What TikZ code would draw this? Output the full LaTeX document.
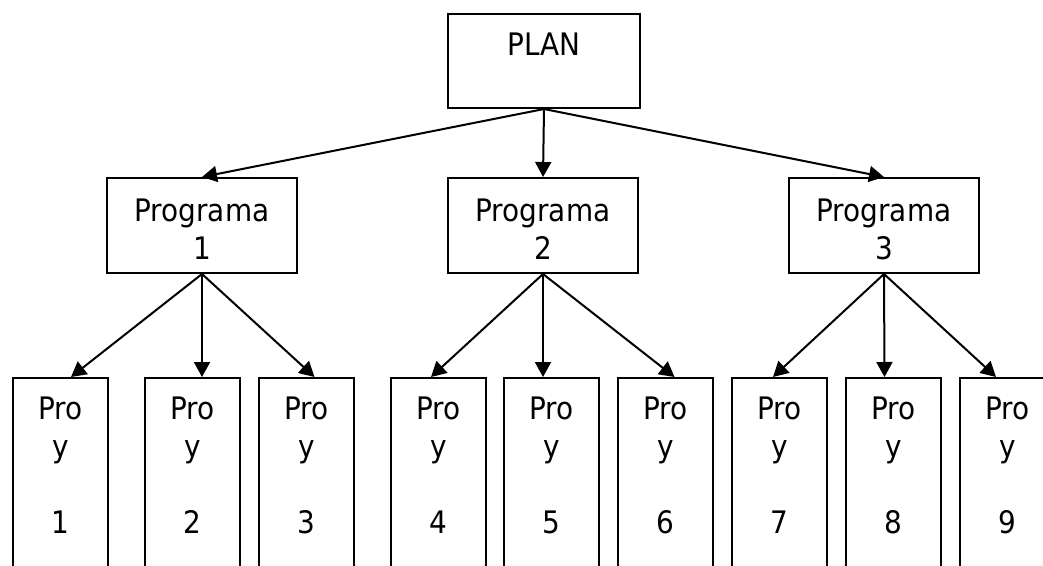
\documentclass[tikz,border=0pt]{standalone}
\usepackage{fontspec}
\setmainfont{DejaVu Sans Condensed}
\usetikzlibrary{arrows.meta}
\tikzset{
  box/.style={draw, line width=2pt, inner sep=0pt, anchor=north west,
    font=\fontsize{31pt}{38pt}\selectfont},
  arr/.style={line width=2pt, -{Triangle[length=15pt,width=16pt]}},
}
\newcommand{\boxtext}[4]{\parbox[c][#2pt][t]{#1pt}{\centering\vspace*{#3pt}#4}}
\begin{document}
\begin{tikzpicture}[x=1pt,y=-1pt]
\useasboundingbox (0,0) rectangle (1043,565);
\clip (0,0) rectangle (1043,565);
% top
\node[box] (plan) at (447,13) {\boxtext{192}{94}{19}{PLAN}};
% programs
\node[box] (g1) at (106,177) {\boxtext{190}{95}{21}{Programa\\1}};
\node[box] (g2) at (447,177) {\boxtext{190}{95}{21}{Programa\\2}};
\node[box] (g3) at (788,177) {\boxtext{190}{95}{21}{Programa\\3}};
% projects
\node[box] (p1) at (12,377)  {\boxtext{95}{250}{19}{Pro\\y\\[38pt]1}};
\node[box] (p2) at (144,377) {\boxtext{95}{250}{19}{Pro\\y\\[38pt]2}};
\node[box] (p3) at (258,377) {\boxtext{95}{250}{19}{Pro\\y\\[38pt]3}};
\node[box] (p4) at (390,377) {\boxtext{95}{250}{19}{Pro\\y\\[38pt]4}};
\node[box] (p5) at (503,377) {\boxtext{95}{250}{19}{Pro\\y\\[38pt]5}};
\node[box] (p6) at (617,377) {\boxtext{95}{250}{19}{Pro\\y\\[38pt]6}};
\node[box] (p7) at (731,377) {\boxtext{95}{250}{19}{Pro\\y\\[38pt]7}};
\node[box] (p8) at (845,377) {\boxtext{95}{250}{19}{Pro\\y\\[38pt]8}};
\node[box] (p9) at (959,377) {\boxtext{95}{250}{19}{Pro\\y\\[38pt]9}};
% connectors
\draw[arr] (plan.south) -- (g1.north);
\draw[arr] (plan.south) -- (g2.north);
\draw[arr] (plan.south) -- (g3.north);
\draw[arr] (g1.south) -- ([xshift=10.5pt]p1.north);
\draw[arr] (g1.south) -- ([xshift=9.5pt]p2.north);
\draw[arr] (g1.south) -- ([xshift=8pt]p3.north);
\draw[arr] (g2.south) -- ([xshift=-7.5pt]p4.north);
\draw[arr] (g2.south) -- ([xshift=-8.5pt]p5.north);
\draw[arr] (g2.south) -- ([xshift=9pt]p6.north);
\draw[arr] (g3.south) -- ([xshift=-6.5pt]p7.north);
\draw[arr] (g3.south) -- ([xshift=-9pt]p8.north);
\draw[arr] (g3.south) -- ([xshift=-11.5pt]p9.north);
\end{tikzpicture}
\end{document}
